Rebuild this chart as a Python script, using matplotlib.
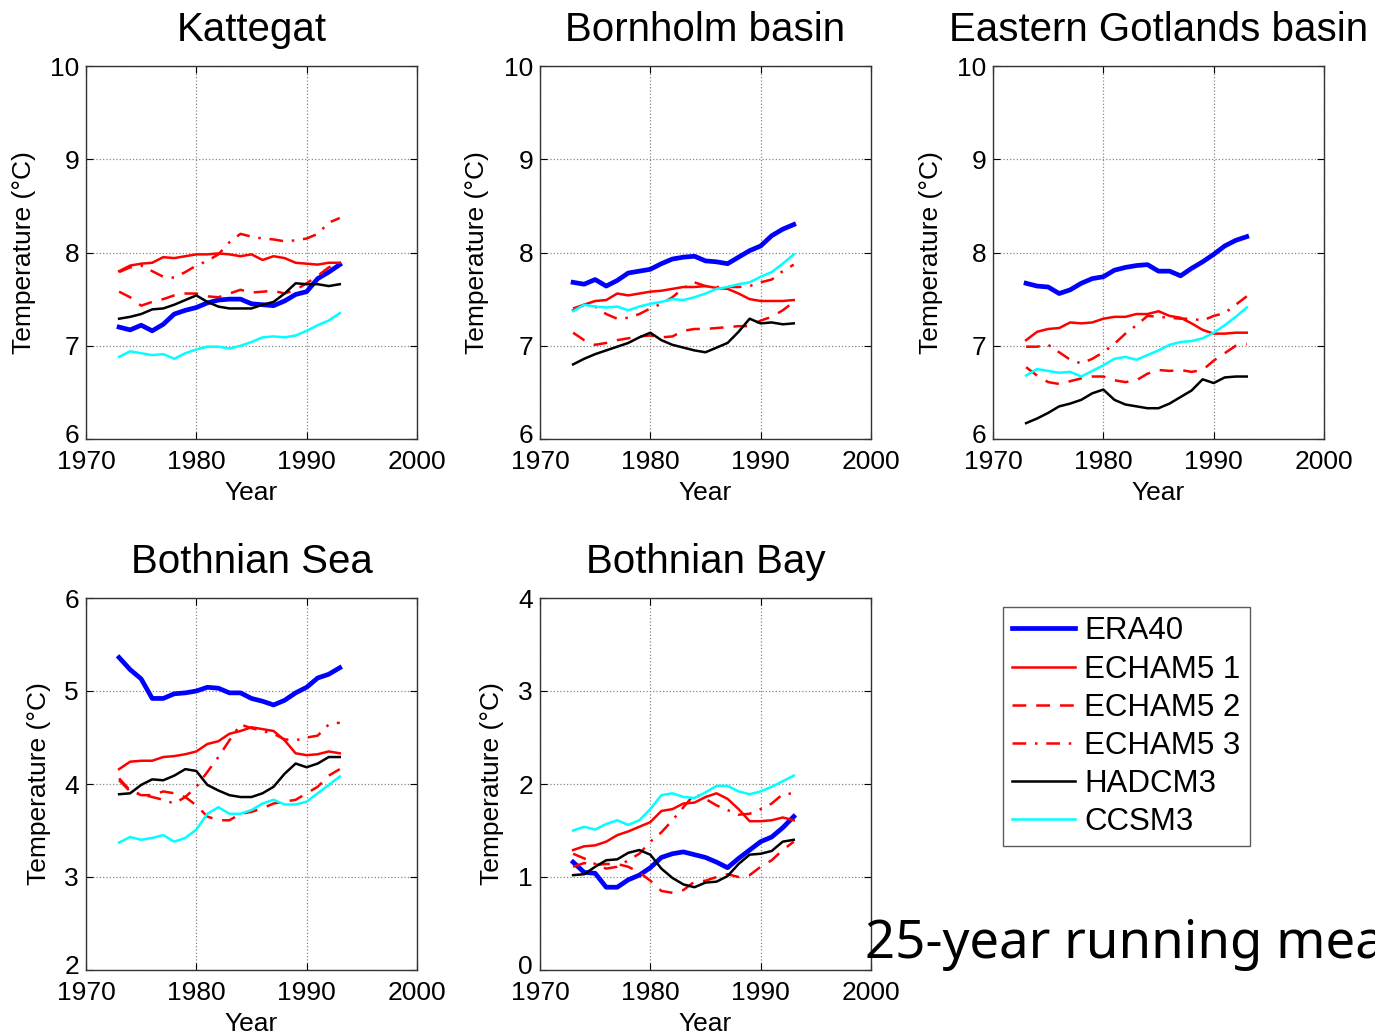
import numpy as np
import matplotlib
matplotlib.use('Agg')
import matplotlib.pyplot as plt
import matplotlib.transforms as mtransforms

plt.rcParams['font.family'] = ['Liberation Sans', 'DejaVu Sans']

years = list(range(1973, 1994))

# Kattegat
kat_era40 = [7.20, 7.17, 7.22, 7.16, 7.23, 7.34, 7.38, 7.41, 7.46, 7.49, 7.50, 7.50, 7.45, 7.44, 7.43, 7.48, 7.55, 7.58, 7.72, 7.79, 7.87]
kat_ech1 = [7.80, 7.86, 7.88, 7.89, 7.95, 7.94, 7.96, 7.98, 7.98, 7.99, 7.98, 7.96, 7.98, 7.92, 7.96, 7.94, 7.89, 7.88, 7.87, 7.89, 7.89]
kat_ech2 = [7.58, 7.52, 7.43, 7.47, 7.50, 7.54, 7.56, 7.56, 7.53, 7.52, 7.56, 7.60, 7.57, 7.58, 7.59, 7.56, 7.60, 7.67, 7.75, 7.84, 7.89]
kat_ech3 = [7.79, 7.84, 7.86, 7.80, 7.74, 7.73, 7.79, 7.86, 7.91, 7.98, 8.11, 8.20, 8.17, 8.15, 8.14, 8.12, 8.13, 8.15, 8.20, 8.32, 8.37]
kat_had = [7.29, 7.31, 7.34, 7.39, 7.40, 7.44, 7.49, 7.54, 7.47, 7.42, 7.40, 7.40, 7.40, 7.44, 7.47, 7.56, 7.67, 7.66, 7.66, 7.64, 7.66]
kat_ccsm = [6.88, 6.94, 6.92, 6.90, 6.91, 6.86, 6.92, 6.96, 6.99, 6.99, 6.97, 7.00, 7.04, 7.09, 7.10, 7.09, 7.11, 7.16, 7.22, 7.27, 7.35]

# Bornholm basin
bor_era40 = [7.68, 7.66, 7.71, 7.64, 7.70, 7.78, 7.80, 7.82, 7.88, 7.93, 7.95, 7.96, 7.91, 7.90, 7.88, 7.95, 8.02, 8.07, 8.18, 8.25, 8.30]
bor_ech1 = [7.38, 7.44, 7.48, 7.49, 7.56, 7.54, 7.56, 7.58, 7.59, 7.61, 7.63, 7.63, 7.64, 7.62, 7.61, 7.56, 7.50, 7.48, 7.48, 7.48, 7.49]
bor_ech2 = [7.14, 7.06, 7.01, 7.03, 7.06, 7.08, 7.10, 7.11, 7.09, 7.10, 7.16, 7.18, 7.18, 7.19, 7.20, 7.21, 7.21, 7.27, 7.31, 7.38, 7.47]
bor_ech3 = [7.40, 7.44, 7.42, 7.34, 7.29, 7.30, 7.34, 7.40, 7.45, 7.52, 7.62, 7.68, 7.64, 7.63, 7.63, 7.63, 7.64, 7.68, 7.71, 7.80, 7.87]
bor_had = [6.80, 6.86, 6.91, 6.95, 6.99, 7.03, 7.09, 7.14, 7.06, 7.01, 6.98, 6.95, 6.93, 6.98, 7.03, 7.15, 7.29, 7.24, 7.25, 7.23, 7.24]
bor_ccsm = [7.37, 7.44, 7.42, 7.41, 7.42, 7.38, 7.42, 7.45, 7.47, 7.50, 7.49, 7.52, 7.56, 7.61, 7.63, 7.66, 7.68, 7.74, 7.79, 7.88, 7.98]

# Eastern Gotlands basin
egb_era40 = [7.67, 7.64, 7.63, 7.56, 7.60, 7.67, 7.72, 7.74, 7.81, 7.84, 7.86, 7.87, 7.80, 7.80, 7.75, 7.83, 7.90, 7.98, 8.07, 8.13, 8.17]
egb_ech1 = [7.06, 7.15, 7.18, 7.19, 7.25, 7.24, 7.25, 7.29, 7.31, 7.31, 7.34, 7.34, 7.37, 7.32, 7.30, 7.24, 7.17, 7.13, 7.13, 7.14, 7.14]
egb_ech2 = [6.77, 6.68, 6.61, 6.59, 6.62, 6.65, 6.67, 6.67, 6.63, 6.61, 6.63, 6.70, 6.74, 6.73, 6.74, 6.72, 6.74, 6.84, 6.92, 7.00, 7.02]
egb_ech3 = [6.99, 6.99, 7.01, 6.93, 6.85, 6.81, 6.86, 6.93, 7.02, 7.13, 7.22, 7.32, 7.31, 7.30, 7.29, 7.29, 7.27, 7.32, 7.35, 7.44, 7.53]
egb_had = [6.17, 6.22, 6.28, 6.35, 6.38, 6.42, 6.49, 6.53, 6.42, 6.37, 6.35, 6.33, 6.33, 6.38, 6.45, 6.52, 6.64, 6.60, 6.66, 6.67, 6.67]
egb_ccsm = [6.68, 6.75, 6.73, 6.71, 6.72, 6.67, 6.73, 6.79, 6.86, 6.88, 6.85, 6.90, 6.95, 7.01, 7.04, 7.05, 7.08, 7.14, 7.22, 7.31, 7.41]

# Bothnian Sea
bs_era40 = [5.36, 5.23, 5.13, 4.92, 4.92, 4.97, 4.98, 5.00, 5.04, 5.03, 4.98, 4.98, 4.92, 4.89, 4.85, 4.90, 4.98, 5.04, 5.14, 5.18, 5.25]
bs_ech1 = [4.16, 4.24, 4.25, 4.25, 4.29, 4.30, 4.32, 4.35, 4.43, 4.46, 4.54, 4.57, 4.61, 4.59, 4.57, 4.47, 4.33, 4.31, 4.32, 4.35, 4.33]
bs_ech2 = [4.06, 3.93, 3.88, 3.88, 3.92, 3.90, 3.86, 3.77, 3.65, 3.61, 3.61, 3.68, 3.70, 3.74, 3.79, 3.81, 3.83, 3.90, 3.97, 4.09, 4.16]
bs_ech3 = [4.04, 3.92, 3.89, 3.86, 3.83, 3.79, 3.86, 3.97, 4.13, 4.29, 4.47, 4.64, 4.60, 4.57, 4.54, 4.48, 4.47, 4.50, 4.52, 4.64, 4.66]
bs_had = [3.89, 3.90, 3.99, 4.05, 4.04, 4.09, 4.16, 4.14, 3.99, 3.93, 3.88, 3.86, 3.86, 3.90, 3.97, 4.11, 4.22, 4.18, 4.22, 4.29, 4.29]
bs_ccsm = [3.37, 3.43, 3.40, 3.42, 3.45, 3.38, 3.42, 3.51, 3.68, 3.75, 3.68, 3.68, 3.72, 3.79, 3.83, 3.78, 3.78, 3.81, 3.90, 3.99, 4.08]

# Bothnian Bay
bb_era40 = [1.16, 1.05, 1.04, 0.89, 0.89, 0.97, 1.02, 1.10, 1.21, 1.25, 1.27, 1.24, 1.21, 1.16, 1.10, 1.20, 1.29, 1.38, 1.43, 1.53, 1.65]
bb_ech1 = [1.29, 1.33, 1.34, 1.38, 1.45, 1.49, 1.54, 1.59, 1.71, 1.73, 1.79, 1.80, 1.86, 1.90, 1.84, 1.73, 1.60, 1.60, 1.61, 1.64, 1.61]
bb_ech2 = [1.11, 1.15, 1.13, 1.14, 1.14, 1.11, 1.05, 0.96, 0.85, 0.83, 0.86, 0.95, 0.96, 1.00, 1.03, 1.00, 1.02, 1.11, 1.18, 1.29, 1.38]
bb_ech3 = [1.25, 1.20, 1.14, 1.09, 1.11, 1.18, 1.25, 1.38, 1.48, 1.61, 1.75, 1.89, 1.84, 1.77, 1.72, 1.67, 1.68, 1.73, 1.79, 1.89, 1.90]
bb_had = [1.02, 1.03, 1.11, 1.18, 1.19, 1.26, 1.29, 1.24, 1.09, 0.99, 0.92, 0.89, 0.94, 0.95, 1.01, 1.14, 1.24, 1.25, 1.28, 1.38, 1.40]
bb_ccsm = [1.50, 1.54, 1.51, 1.57, 1.61, 1.56, 1.61, 1.73, 1.88, 1.90, 1.86, 1.85, 1.91, 1.98, 1.98, 1.92, 1.89, 1.92, 1.97, 2.03, 2.09]

labels = ['ERA40', 'ECHAM5 1', 'ECHAM5 2', 'ECHAM5 3', 'HADCM3', 'CCSM3']
titles = ['Kattegat', 'Bornholm basin', 'Eastern Gotlands basin', 'Bothnian Sea', 'Bothnian Bay']

W, H = 1375, 1034
fig = plt.figure(figsize=(W / 100, H / 100), dpi=100)

# line styles: colour, width, dash pattern (None = solid)
styles = [
    ('#0000ff', 3.4, None),
    ('#ff0000', 1.8, None),
    ('#ff0000', 1.8, (5.5, 4)),
    ('#ff0000', 1.8, (5.5, 3.5, 1, 3.5)),
    ('#000000', 1.8, None),
    ('#00ffff', 1.8, None),
]


def make_ax(left, top, right, bottom):
    return fig.add_axes([left / W, 1 - bottom / H, (right - left) / W, (bottom - top) / H])


def draw_panel(ax, title, series, ylim, ylab_off):
    handles = []
    for vals, (c, lw, dash) in zip(series, styles):
        ln, = ax.plot(years, vals, color=c, lw=lw)
        if dash is not None:
            ln.set_dashes(dash)
        handles.append(ln)
    ax.set_xlim(1970, 2000)
    ax.set_ylim(*ylim)
    ax.set_xticks([1970, 1980, 1990, 2000])
    ax.set_yticks(range(ylim[0], ylim[1] + 1))
    ax.grid(True, linestyle=':', color='#888888', lw=0.9)
    ax.tick_params(direction='in', top=True, right=True, length=5, labelsize=19)
    ax.tick_params(axis='x', pad=8)
    ax.tick_params(axis='y', pad=5)
    # nudge the lowest y label up, as in the original
    lab0 = ax.get_yticklabels()[0]
    lab0.set_transform(lab0.get_transform() + mtransforms.ScaledTranslation(0, 4 / 72, fig.dpi_scale_trans))
    for s in ax.spines.values():
        s.set_color('#333333')
        s.set_linewidth(1.0)
    ax.set_title(title, fontsize=29, pad=18)
    ax.set_xlabel('Year', fontsize=19, va='center')
    ax.xaxis.set_label_coords(0.5, -54 / 373)
    ax.set_ylabel('Temperature (°C)', fontsize=19, va='center')
    ax.yaxis.set_label_coords(-ylab_off / 331, 0.5)
    return handles


ax1 = make_ax(86, 66, 417, 439)
ax2 = make_ax(540, 66, 871, 439)
ax3 = make_ax(993, 66, 1324, 439)
ax4 = make_ax(86, 598, 417, 970)
ax5 = make_ax(540, 598, 871, 970)

hs = draw_panel(ax1, titles[0], [kat_era40, kat_ech1, kat_ech2, kat_ech3, kat_had, kat_ccsm], (6, 10), 62)
draw_panel(ax2, titles[1], [bor_era40, bor_ech1, bor_ech2, bor_ech3, bor_had, bor_ccsm], (6, 10), 63)
draw_panel(ax3, titles[2], [egb_era40, egb_ech1, egb_ech2, egb_ech3, egb_had, egb_ccsm], (6, 10), 62)
draw_panel(ax4, titles[3], [bs_era40, bs_ech1, bs_ech2, bs_ech3, bs_had, bs_ccsm], (2, 6), 47)
draw_panel(ax5, titles[4], [bb_era40, bb_ech1, bb_ech2, bb_ech3, bb_had, bb_ccsm], (0, 4), 48)

leg = fig.legend(hs, labels, loc='upper left', bbox_to_anchor=(1003 / W, 1 - 607 / H),
                 borderaxespad=0, fontsize=22.5, frameon=True, fancybox=False,
                 handlelength=2.0, handletextpad=0.3, labelspacing=0.26, borderpad=0.3)
leg.get_frame().set_edgecolor('#333333')
leg.get_frame().set_linewidth(1.0)

fig.text(865 / W, 1 - 958 / H, '25-year running mean', fontsize=38, va='baseline', ha='left',
         family=['Noto Sans', 'DejaVu Sans'])

fig.savefig('out.png', dpi=100)
